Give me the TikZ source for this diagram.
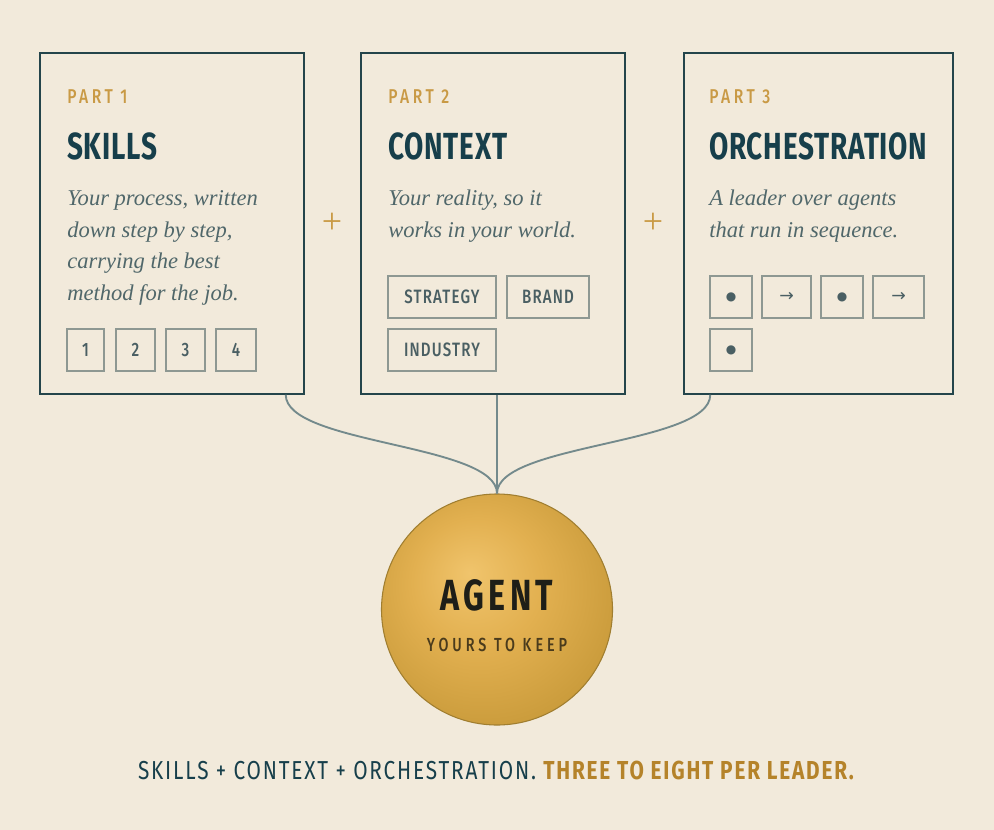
\documentclass[tikz,border=0pt]{standalone}
\usepackage{fontspec}
\setmainfont{Fira Sans}
\newfontfamily\partfont[FakeStretch=0.78,LetterSpace=18]{Fira Sans Medium}
\newfontfamily\titlefont[FakeStretch=0.74,LetterSpace=2]{Fira Sans}
\newfontfamily\descfont{Liberation Serif}
\newfontfamily\tagfont[FakeStretch=0.78,LetterSpace=6]{Fira Sans Medium}
\newfontfamily\agentfont[FakeStretch=0.74,LetterSpace=10]{Fira Sans}
\newfontfamily\keepfont[FakeStretch=0.76,LetterSpace=21]{Fira Sans Medium}
\newfontfamily\footfont[FakeStretch=0.8,LetterSpace=7]{Fira Sans}
\newfontfamily\symfont{DejaVu Sans}

\definecolor{paper}{HTML}{F2EADB}
\definecolor{cardline}{HTML}{24454B}
\definecolor{ink}{HTML}{173F4B}
\definecolor{gold}{HTML}{C99A45}
\definecolor{slate}{HTML}{50676A}
\definecolor{tagline}{HTML}{8E9892}
\definecolor{tagtext}{HTML}{4A5F63}
\definecolor{linkc}{HTML}{748A8C}
\definecolor{coinline}{HTML}{A07E30}
\definecolor{glowhi}{HTML}{F0C46C}
\definecolor{glowmid}{HTML}{E2B050}
\definecolor{glowlo}{HTML}{C69838}
\definecolor{agentink}{HTML}{1E1E18}
\definecolor{keepink}{HTML}{4A3B1C}
\definecolor{footgold}{HTML}{B5832A}

\pgfdeclareradialshading{agentglow}{\pgfpoint{-6bp}{8bp}}{color(0bp)=(glowhi); color(14bp)=(glowmid); color(32bp)=(glowlo); color(50bp)=(glowlo)}

\tikzset{
  card/.style={rectangle,draw=cardline,line width=1.1pt,fill=paper,minimum width=198pt,minimum height=255.75pt,inner sep=0pt},
  partlbl/.style={anchor=base west,inner sep=0pt,text=gold,font=\partfont\fontsize{15}{18}\selectfont},
  cardtitle/.style={anchor=base west,inner sep=0pt,text=ink,font=\titlefont\bfseries\fontsize{28.3}{32}\selectfont},
  desc/.style={anchor=base west,inner sep=0pt,text=slate,font=\descfont\itshape\fontsize{16.9}{23.5}\selectfont},
  tag/.style={rectangle,draw=tagline,line width=1.1pt,minimum height=31.5pt,inner sep=0pt,text=tagtext,font=\tagfont\fontsize{14.5}{16}\selectfont},
  dotlbl/.style={tag,minimum width=31.5pt,font=\symfont\fontsize{9}{10}\selectfont},
  arrlbl/.style={tag,font=\symfont\fontsize{13}{14}\selectfont},
  link/.style={draw=linkc,line width=1.4pt},
  pluslbl/.style={text=gold,font=\descfont\fontsize{27}{27}\selectfont},
}

\begin{document}
\begin{tikzpicture}[x=0.75pt,y=-0.75pt]
\fill[paper] (0,0) rectangle (994,830);
\begin{scope}
% three cards
\node (S) at (172,223.5) [card] {};
\node (C) at (493,223.5) [card] {};
\node (O) at (818.5,223.5) [card,minimum width=201.75pt] {};
\node (P1) at (67,104) [partlbl] {PART 1};
\node (P2) at (388,104) [partlbl] {PART 2};
\node (P3) at (709,104) [partlbl] {PART 3};
\node (T1) at (67,160) [cardtitle] {SKILLS};
\node (T2) at (388,160) [cardtitle] {CONTEXT};
\node (T3) at (709,160) [cardtitle] {ORCHESTRATION};
\node (D1) at (67,206) [desc] {\begin{tabular}[t]{@{}l@{}}Your process, written\\ down step by step,\\ carrying the best\\ method for the job.\end{tabular}};
\node (D2) at (388,206) [desc] {\begin{tabular}[t]{@{}l@{}}Your reality, so it\\ works in your world.\end{tabular}};
\node (D3) at (709,206) [desc] {\begin{tabular}[t]{@{}l@{}}A leader over agents\\ that run in sequence.\end{tabular}};
% tags
\node (K1) at (85.5,350) [tag,minimum width=28pt] {1};
\node (K2) at (135.5,350) [tag,minimum width=29pt] {2};
\node (K3) at (185.5,350) [tag,minimum width=29pt] {3};
\node (K4) at (236,350) [tag,minimum width=30pt] {4};
\node (X1) at (442,297) [tag,minimum width=81pt] {STRATEGY};
\node (X2) at (548,297) [tag,minimum width=61.5pt] {BRAND};
\node (X3) at (442,350) [tag,minimum width=81pt] {INDUSTRY};
\node (R1) at (731,297) [dotlbl] {●};
\node (R2) at (786.5,297) [arrlbl,minimum width=37pt] {→};
\node (R3) at (842,297) [dotlbl] {●};
\node (R4) at (898.5,297) [arrlbl,minimum width=38pt] {→};
\node (R5) at (731,350) [dotlbl] {●};
% plus signs
\node (plusA) at (332,223) [pluslbl] {+};
\node (plusB) at (653,223) [pluslbl] {+};
% agent
\node (A) at (497,609.5) [circle,minimum size=173.25pt,draw=coinline,line width=0.8pt,shading=agentglow,inner sep=0pt] {};
\node (AN) at (497,610) [anchor=base,inner sep=0pt,text=agentink,font=\agentfont\bfseries\fontsize{32.7}{36}\selectfont] {AGENT};
\node (AK) at (497,651) [anchor=base,inner sep=0pt,text=keepink,font=\keepfont\fontsize{14.2}{16}\selectfont] {YOURS TO KEEP};
\draw[link] ([xshift=-14.25pt]S.south east) .. controls +(0,50) and +(0,-50) .. (A.north);
\draw[link] (A.north |- C.south) -- (A.north);
\draw[link] ([xshift=20.25pt]O.south west) .. controls +(0,50) and +(0,-50) .. (A.north);
% footer line
\node (F) at (496,779) [anchor=base,inner sep=0pt,text=ink,font=\footfont\fontsize{19.5}{21}\selectfont] {SKILLS + CONTEXT + ORCHESTRATION. {\color{footgold}\bfseries THREE TO EIGHT PER LEADER.}};
\end{scope}
\end{tikzpicture}
\end{document}
